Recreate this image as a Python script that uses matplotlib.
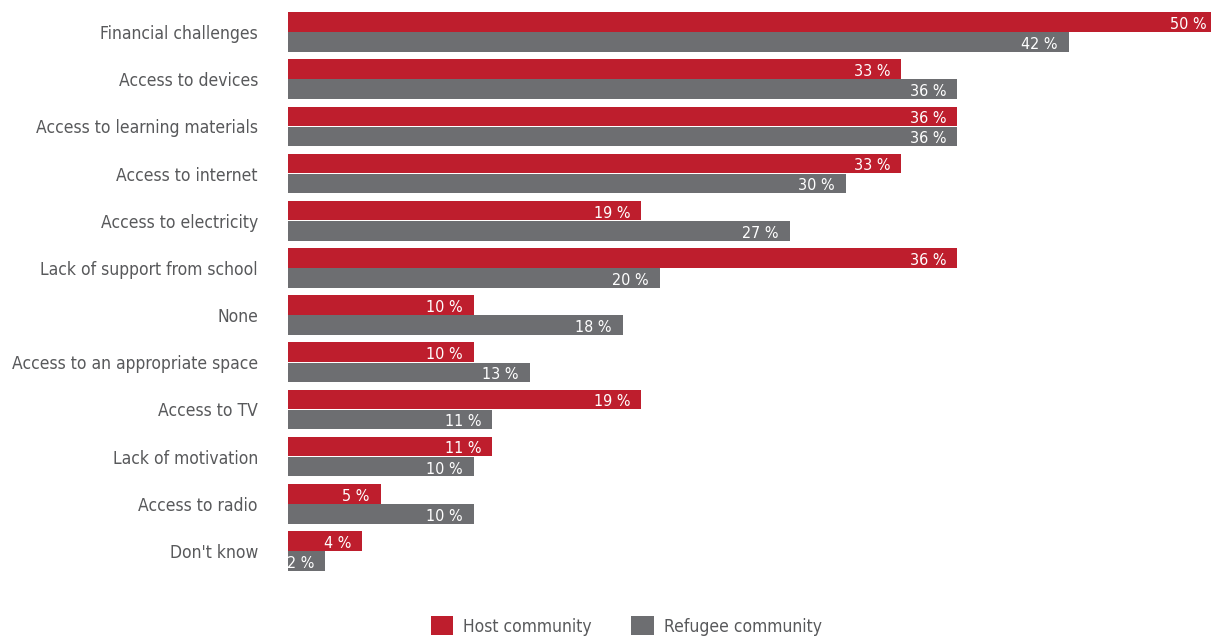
import matplotlib.pyplot as plt
from matplotlib import font_manager
import numpy as np

categories = ["Financial challenges", "Access to devices", "Access to learning materials",
              "Access to internet", "Access to electricity", "Lack of support from school",
              "None", "Access to an appropriate space", "Access to TV", "Lack of motivation",
              "Access to radio", "Don't know"]
host = [50, 33, 36, 33, 19, 36, 10, 10, 19, 11, 5, 4]
refugee = [42, 36, 36, 30, 27, 20, 18, 13, 11, 10, 10, 2]

red = "#be1e2d"
grey = "#6d6e71"
txt = "#58595b"

# look for a condensed face, otherwise fall back to Roboto
fam, stretch = "Roboto", "normal"
for f in font_manager.fontManager.ttflist:
    if ("Narrow" in f.name or "Condensed" in f.name or f.stretch in ("condensed", "semi-condensed")) \
            and f.style == "normal" and f.weight in (300, 400, "normal", "light"):
        fam, stretch = f.name, f.stretch
        break
plt.rcParams['font.family'] = [fam, 'DejaVu Sans']
plt.rcParams['font.stretch'] = stretch

fig = plt.figure(figsize=(12.11, 6.38), dpi=100)
ax = fig.add_axes([288 / 1211, 1 - 574.6 / 638, 1 - 288 / 1211, (574.6 - 8.4) / 638])

# size the labels so the longest one spans about 247 px like the original
r = fig.canvas.get_renderer()
t = fig.text(0, 0, "Access to an appropriate space", fontsize=14)
w = t.get_window_extent(r).width
t.remove()
fs = 14 * 247 / w

y = np.arange(len(categories))
h = 0.415
b1 = ax.barh(y - 0.213, host, height=h, color=red, label="Host community")
b2 = ax.barh(y + 0.213, refugee, height=h, color=grey, label="Refugee community")

for bars, vals in [(b1, host), (b2, refugee)]:
    for bar, v in zip(bars, vals):
        ax.text(v - 0.6, bar.get_y() + bar.get_height() / 2 + 0.05, f"{v} %",
                ha="right", va="center", color="white", fontsize=fs * 0.92)

ax.set_xlim(0, 49.65)
ax.set_ylim(11.5, -0.5)
ax.set_yticks(y)
ax.set_yticklabels(categories, fontsize=fs, color=txt)
ax.tick_params(axis="y", length=0, pad=21.6)
ax.set_xticks([])
for s in ax.spines.values():
    s.set_visible(False)

fig.legend(handles=[b1, b2], loc="center", bbox_to_anchor=(0.517, 1 - 626 / 638), ncol=2,
           frameon=False, fontsize=fs, labelcolor=txt, handlelength=1.3, handleheight=1.3,
           columnspacing=2.3, handletextpad=0.55)

fig.savefig("out.png", dpi=100)
